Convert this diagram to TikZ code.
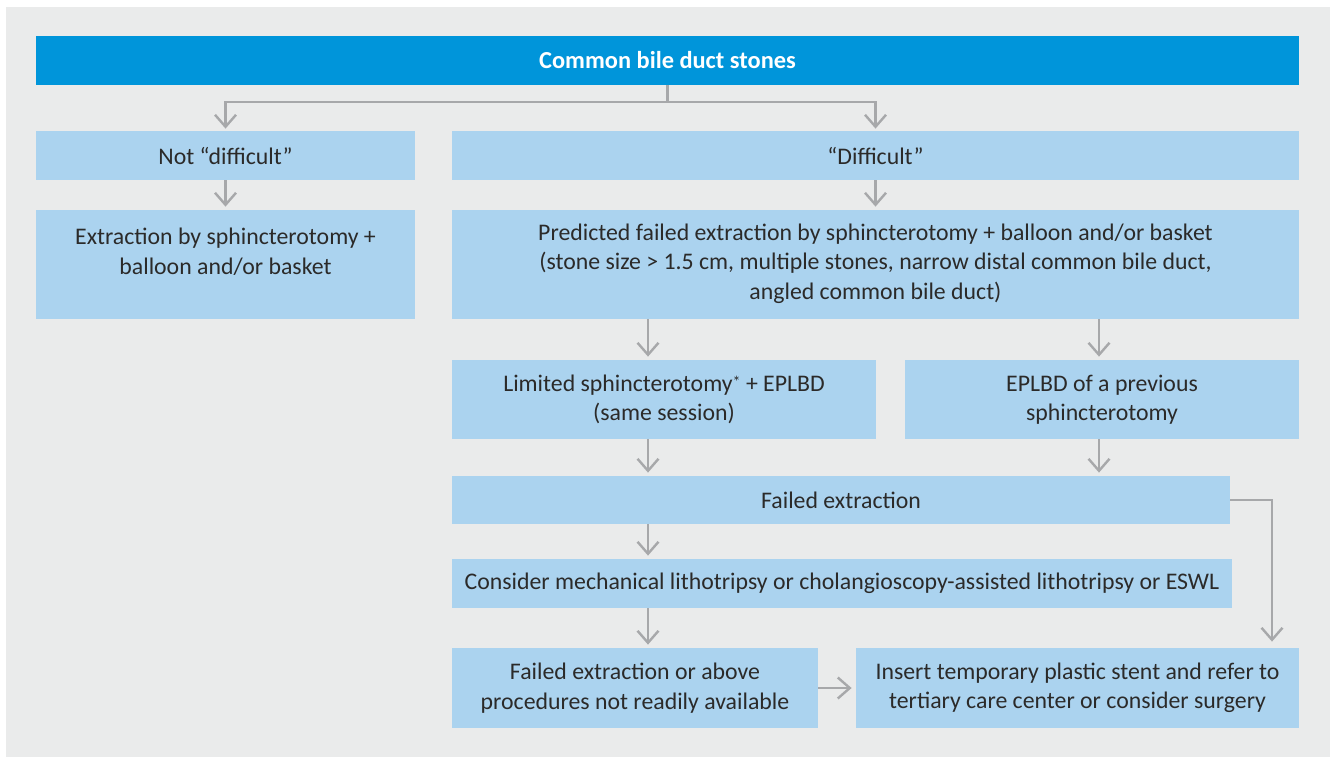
\documentclass[tikz,border=0pt]{standalone}
\usepackage{fontspec}
\setmainfont{Carlito}
\usetikzlibrary{arrows.meta}
\definecolor{bgray}{HTML}{EAEBEB}
\definecolor{tblue}{HTML}{0095DA}
\definecolor{lblue}{HTML}{ABD3EF}
\definecolor{agray}{HTML}{A7A8AA}
\definecolor{txt}{HTML}{2B2A29}
\tikzset{
  box/.style={fill=lblue, draw=none, inner sep=0pt, align=center, text=txt,
    font=\fontsize{11.9}{14.75}\selectfont},
  titlebox/.style={fill=tblue, draw=none, inner sep=0pt, align=center, text=white,
    font=\fontsize{12.2}{14.75}\selectfont\bfseries},
  arr/.style={draw=agray, line width=1.2pt,
    -{Straight Barb[length=6pt,width=10.5pt,line width=1.2pt]}},
}
\begin{document}
\begin{tikzpicture}[x=0.5pt,y=-0.5pt]
\useasboundingbox (0,0) rectangle (1335,757);
\fill[white] (0,0) rectangle (1335,757);
\fill[bgray] (6,7) rectangle (1330,757);

\node[titlebox, minimum width=631.5pt, minimum height=24.5pt] (title) at (667.5,60.5) {Common bile duct stones};
\node[box, minimum width=189.5pt, minimum height=24.5pt] (notd) at (225.5,155.5) {Not “difficult”};
\node[box, minimum width=423.5pt, minimum height=24.5pt] (diff) at (875.5,155.5) {“Difficult”};
\node[box, minimum width=189.5pt, minimum height=54.5pt] (extr) at (225.5,264.5) {Extraction by sphincterotomy +\\balloon and/or basket\\[-6pt]\strut};
\node[box, minimum width=423.5pt, minimum height=54.5pt] (pred) at (875.5,264.5) {Predicted failed extraction by sphincterotomy + balloon and/or basket\\(stone size > 1.5 cm, multiple stones, narrow distal common bile duct,\\angled common bile duct)\\[-11.5pt]\mbox{}};
\node[box, minimum width=212pt, minimum height=39.5pt] (lim) at (664,399.5) {Limited sphincterotomy\raisebox{0.35ex}{\footnotesize*} + EPLBD\\(same session)};
\node[box, minimum width=197pt, minimum height=39.5pt] (prev) at (1102,399.5) {EPLBD of a previous\\sphincterotomy};
\node[box, minimum width=389pt, minimum height=24pt] (fail) at (841,500) {Failed extraction};
\node[box, minimum width=390pt, minimum height=24.5pt] (cons) at (842,583.5) {Consider mechanical lithotripsy or cholangioscopy-assisted lithotripsy or ESWL};
\node[box, minimum width=183pt, minimum height=40pt] (fab) at (635,688) {Failed extraction or above\\procedures not readily available};
\node[box, minimum width=221.5pt, minimum height=40pt] (ins) at (1077.5,688) {Insert temporary plastic stent and refer to\\tertiary care center or consider surgery};

\coordinate (bus) at (0,102);
\coordinate (c1) at (648,0);
\coordinate (c2) at (1099,0);
\coordinate (c3) at (1272,0);

\draw[arr] (title.south) -- (title.south |- bus) -| ([yshift=1pt]notd.north);
\draw[arr] (title.south |- bus) -| ([yshift=1pt]diff.north);
\draw[arr] (notd.south) -- ([yshift=1.5pt]extr.north);
\draw[arr] (diff.south) -- ([yshift=1.5pt]pred.north);
\draw[arr] (pred.south -| c1) -- ([yshift=1.5pt]lim.north -| c1);
\draw[arr] (pred.south -| c2) -- ([yshift=1.5pt]prev.north -| c2);
\draw[arr] (lim.south -| c1) -- ([yshift=1.5pt]fail.north -| c1);
\draw[arr] (prev.south -| c2) -- ([yshift=1.5pt]fail.north -| c2);
\draw[arr] (fail.south -| c1) -- ([yshift=1.5pt]cons.north -| c1);
\draw[arr] (cons.south -| c1) -- ([yshift=1.5pt]fab.north -| c1);
\draw[arr] (fail.east) -| ([yshift=3pt]ins.north -| c3);
\draw[arr] (fab.east) -- ([xshift=-2pt]ins.west);
\end{tikzpicture}
\end{document}
